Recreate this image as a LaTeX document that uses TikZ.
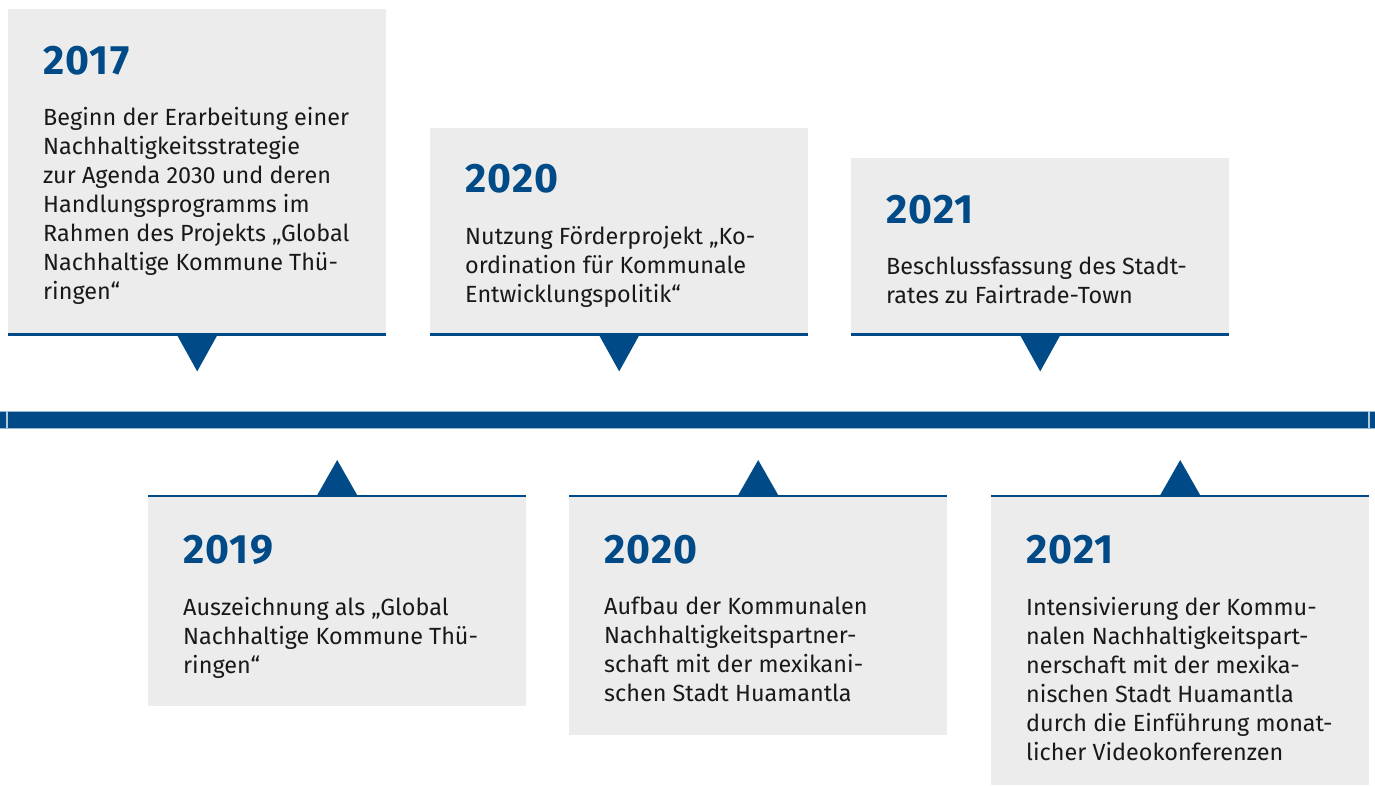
\documentclass[tikz,border=0pt]{standalone}
\usepackage{fontspec}
\setmainfont{Fira Sans}
\usepackage{xcolor}
\usetikzlibrary{positioning}

\definecolor{tlblue}{RGB}{0,75,135}
\definecolor{tlgrey}{RGB}{236,236,236}

\begin{document}
\begin{tikzpicture}[x=1pt, y=-1pt,
    card/.style={rectangle, fill=tlgrey, minimum width=378pt, inner sep=0pt, anchor=north west},
    year/.style={anchor=base west, inner sep=0pt, text=tlblue, font=\fontsize{41}{44}\selectfont\bfseries\addfontfeature{LetterSpace=3}},
    info/.style={anchor=north west, inner sep=0pt, align=left, text=black!90, font=\fontsize{23.4}{29}\selectfont,
      execute at begin node={\rule{0pt}{17pt}}}
]
\useasboundingbox (0,0) rectangle (1375,785);

% timeline bar
\fill[tlblue] (0,411) rectangle (1375,428);
\draw[tlblue!40, line width=1pt] (0,411) -- (1375,411) (0,428) -- (1375,428);
\draw[white!70!tlblue, line width=1.2pt] (7,411) -- (7,428) (1369,411) -- (1369,428);

% cards above the bar
\node[card, minimum height=325pt] (c1) at (8,9) {};
\node[card, minimum height=206pt] (c2) at (430,128) {};
\node[card, minimum height=176pt] (c3) at (851,158) {};

% cards below the bar
\node[card, minimum height=210pt] (c4) at (148,496) {};
\node[card, minimum height=239pt] (c5) at (569,496) {};
\node[card, minimum height=289pt] (c6) at (991,496) {};

% edge lines and pointers
\foreach \c in {c1,c2,c3} {
  \draw[tlblue, line width=2.5pt] (\c.south west) -- (\c.south east);
  \fill[tlblue] ([xshift=-20.5pt]\c.south) -- ([xshift=20.5pt]\c.south) -- ([yshift=-37pt]\c.south) -- cycle;
}
\foreach \c in {c4,c5,c6} {
  \draw[tlblue, line width=2.5pt] (\c.north west) -- (\c.north east);
  \fill[tlblue] ([xshift=-20.5pt]\c.north) -- ([xshift=20.5pt]\c.north) -- ([yshift=36pt]\c.north) -- cycle;
}

% texts
\node[year] (y1) at ([xshift=35pt, yshift=-65pt]c1.north west) {2017};
\node[info] (t1) at ([xshift=35pt, yshift=-98pt]c1.north west) {Beginn der Erarbeitung einer\\Nachhaltigkeitsstrategie\\zur Agenda 2030 und deren\\Handlungsprogramms im\\Rahmen des Projekts „Global\\Nachhaltige Kommune Thü-\\ringen“};

\node[year] (y2) at ([xshift=35pt, yshift=-64pt]c2.north west) {2020};
\node[info] (t2) at ([xshift=35pt, yshift=-98pt]c2.north west) {Nutzung Förderprojekt „Ko-\\ordination für Kommunale\\Entwicklungspolitik“};

\node[year] (y3) at ([xshift=35pt, yshift=-65pt]c3.north west) {2021};
\node[info] (t3) at ([xshift=35pt, yshift=-99pt]c3.north west) {Beschlussfassung des Stadt-\\rates zu Fairtrade-Town};

\node[year] (y4) at ([xshift=35pt, yshift=-67pt]c4.north west) {2019};
\node[info] (t4) at ([xshift=35pt, yshift=-101pt]c4.north west) {Auszeichnung als „Global\\Nachhaltige Kommune Thü-\\ringen“};

\node[year] (y5) at ([xshift=35pt, yshift=-67pt]c5.north west) {2020};
\node[info] (t5) at ([xshift=35pt, yshift=-101pt]c5.north west) {Aufbau der Kommunalen\\Nachhaltigkeitspartner-\\schaft mit der mexikani-\\schen Stadt Huamantla};

\node[year] (y6) at ([xshift=35pt, yshift=-67pt]c6.north west) {2021};
\node[info] (t6) at ([xshift=35pt, yshift=-101pt]c6.north west) {Intensivierung der Kommu-\\nalen Nachhaltigkeitspart-\\nerschaft mit der mexika-\\nischen Stadt Huamantla\\durch die Einführung monat-\\licher Videokonferenzen};
\end{tikzpicture}
\end{document}
